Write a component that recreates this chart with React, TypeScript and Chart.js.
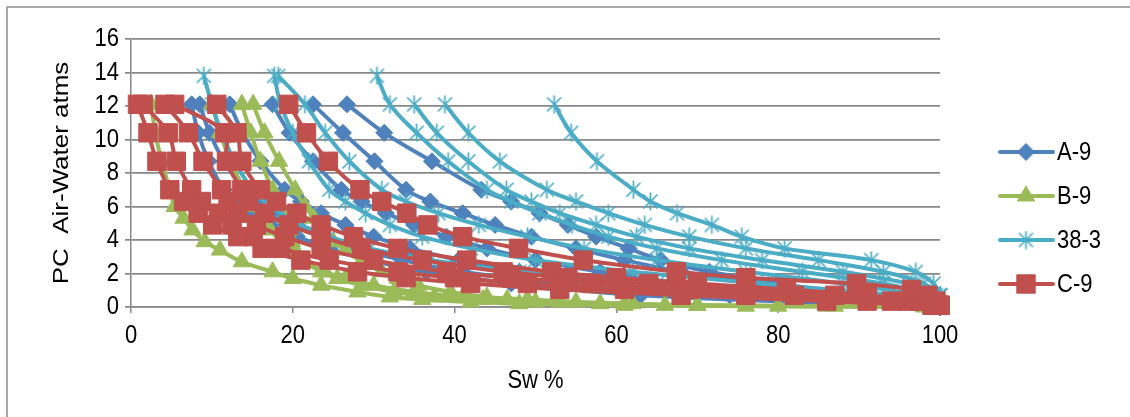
import React, { useEffect, useRef } from 'react';
import { Chart, registerables } from 'chart.js';

Chart.register(...registerables);

// ---------- text ----------
const SERIES_NAMES = ['A-9', 'B-9', '38-3', 'C-9'];
const X_TITLE = 'Sw %';
const Y_TITLE = 'PC  Air-Water atms';
const X_TICKS = [0, 20, 40, 60, 80, 100];
const Y_TICKS = [0, 2, 4, 6, 8, 10, 12, 14, 16];

// ---------- A-9 (Pc levels, atm) and Sw % of each sample curve ----------
const PC_A9 = [12.1, 10.4, 8.7, 7.0, 6.3, 5.6, 4.9, 4.2, 3.5, 2.8, 2.1, 1.4, 0.7, 0.0];
const A9_1 = [26.7, 31.3, 37.2, 43.3, 47.0, 50.5, 54.0, 57.5, 61.5, 65.5, 71.5, 80.0, 90.0, 100.0];
const A9_2 = [22.5, 26.2, 30.1, 34.0, 37.0, 41.0, 45.0, 49.5, 55.0, 61.0, 68.0, 77.0, 88.0, 100.0];
const A9_3 = [17.5, 19.6, 22.5, 26.0, 28.5, 31.5, 35.0, 39.0, 44.0, 50.0, 58.0, 68.0, 82.0, 100.0];
const A9_4 = [12.2, 13.8, 16.0, 19.0, 21.0, 23.5, 26.5, 30.0, 34.5, 40.5, 48.0, 58.0, 74.0, 100.0];
const A9_5 = [8.5, 9.7, 11.5, 14.0, 15.8, 18.0, 20.5, 24.0, 28.0, 33.5, 41.0, 52.0, 68.0, 100.0];
const A9_6 = [7.5, 8.3, 9.6, 11.5, 13.0, 15.0, 17.3, 20.5, 24.5, 29.5, 36.5, 47.0, 63.0, 100.0];

// ---------- B-9 ----------
const PC_B9 = [12.1, 10.4, 8.7, 7.0, 6.0, 5.3, 4.6, 3.9, 3.4, 2.7, 2.1, 1.7, 1.3, 0.9, 0.6, 0.45, 0.3, 0.2, 0.1, 0.05, 0.0];
const B9_1 = [2.5, 3.0, 3.8, 4.8, 5.4, 6.5, 7.6, 9.1, 11.0, 13.7, 17.5, 20.0, 23.5, 28.0, 32.0, 36.0, 42.0, 48.0, 61.0, 76.0, 98.0];
const B9_2 = [13.7, 14.8, 16.0, 17.5, 18.5, 19.2, 19.6, 19.9, 20.3, 21.5, 23.5, 25.5, 28.5, 32.5, 37.5, 43.5, 50.0, 58.0, 66.0, 80.0, 99.0];
const B9_3 = [15.1, 16.5, 18.3, 20.3, 21.5, 22.6, 23.6, 25.0, 26.5, 28.5, 31.0, 33.0, 35.5, 39.5, 44.0, 49.0, 55.0, 62.0, 70.0, 87.0, 100.0];
const B9_4 = [10.0, 11.0, 12.3, 14.0, 15.0, 16.0, 17.2, 18.5, 19.8, 21.5, 24.0, 26.5, 30.0, 35.0, 41.0, 46.5, 53.0, 61.0, 70.0, 86.0, 100.0];

// ---------- 38-3 ----------
const PC_383 = [13.8, 12.1, 10.4, 8.7, 7.0, 6.3, 5.6, 4.9, 4.2, 3.5, 2.8, 2.1, 1.4, 0.7];
const K383_1 = [null, 52.3, 54.4, 57.6, 62.1, 64.2, 67.5, 71.8, 75.5, 80.8, 91.5, 97.0, 99.2, 100.0];
const K383_2 = [30.4, 32.0, 35.3, 39.2, 44.0, 47.0, 50.5, 54.5, 59.0, 65.0, 73.0, 83.0, 93.0, 99.5];
const K383_3 = [null, 35.0, 37.8, 41.7, 46.4, 49.5, 53.0, 57.5, 62.5, 69.0, 78.0, 88.0, 96.0, 100.0];
const K383_4 = [null, 38.8, 41.7, 45.6, 51.4, 55.0, 59.0, 63.5, 69.0, 76.0, 85.0, 93.0, 98.0, 100.0];
const K383_5 = [18.2, 21.5, 24.0, 27.0, 31.0, 34.0, 38.0, 43.0, 49.0, 56.0, 65.0, 76.0, 88.0, 98.0];
const K383_6 = [17.7, 18.5, 20.0, 22.0, 24.5, 26.5, 29.0, 32.0, 36.0, 42.0, 50.0, 62.0, 78.0, 95.0];
const K383_7 = [9.0, 10.0, 11.2, 12.8, 15.0, 16.5, 18.5, 21.0, 24.5, 29.5, 37.0, 48.0, 65.0, 90.0];

// ---------- C-9 ----------
const PC_C9 = [12.1, 10.4, 8.7, 7.0, 6.3, 5.6, 4.9, 4.2, 3.5, 2.8, 2.1, 1.75, 1.4, 1.05, 0.7, 0.35, 0.1];
const C9_1 = [19.5, 21.7, 24.4, 28.3, 31.0, 34.1, 36.7, 41.0, 47.9, 55.9, 67.4, 76.0, 89.7, 96.5, 98.5, 99.5, 100.0];
const C9_2 = [0.8, 2.1, 3.2, 4.8, 6.5, 8.3, 10.1, 13.2, 16.2, 21.0, 28.0, 34.0, 42.0, 53.0, 68.0, 86.0, 99.0];
const C9_3 = [1.5, 4.6, 5.6, 7.5, 8.7, 10.8, 12.5, 15.1, 18.5, 24.5, 33.0, 40.0, 49.0, 61.0, 76.0, 91.0, 99.5];
const C9_4 = [4.2, 7.1, 8.9, 11.2, 12.0, 13.2, 15.5, 19.0, 23.5, 30.0, 39.0, 47.0, 57.0, 69.0, 82.0, 94.0, 99.8];
const C9_5 = [5.4, 11.6, 11.8, 13.7, 14.5, 16.5, 19.5, 23.5, 28.5, 36.0, 46.0, 54.0, 64.0, 76.0, 87.0, 96.0, 100.0];
const C9_6 = [10.6, 13.1, 13.7, 16.0, 18.0, 20.5, 23.5, 27.5, 33.0, 41.5, 52.0, 60.0, 70.0, 81.0, 91.0, 97.5, 100.0];

// ---------- styling ----------
const FONT = '"Liberation Sans", Arial, Helvetica, sans-serif';
const FONT_SIZE = 22;
const TEXT_STRETCH = 1.18; // text in the reference is taller than it is wide
const GRID = '#878787';

function makeAsterisk(size: number, color: string, lw: number) {
  const c = document.createElement('canvas');
  c.width = size;
  c.height = size;
  const g = c.getContext('2d')!;
  g.strokeStyle = color;
  g.lineWidth = lw;
  const m = size / 2;
  const r = size / 2 - 0.5;
  const d = r * 0.78;
  g.beginPath();
  g.moveTo(m, m - r);
  g.lineTo(m, m + r);
  g.moveTo(m - d, m - d);
  g.lineTo(m + d, m + d);
  g.moveTo(m + d, m - d);
  g.lineTo(m - d, m + d);
  g.stroke();
  return c;
}

type Fam = { name: string; color: string; style: any; radius: number; pc: number[]; curves: (number | null)[][]; order: number };

function drawMarker(ctx: CanvasRenderingContext2D, style: any, x: number, y: number, color: string, r: number) {
  ctx.save();
  ctx.fillStyle = color;
  ctx.strokeStyle = color;
  ctx.lineWidth = 1;
  if (typeof style !== 'string') {
    ctx.drawImage(style, x - style.width / 2, y - style.height / 2);
    ctx.restore();
    return;
  }
  ctx.beginPath();
  if (style === 'rectRot') {
    ctx.moveTo(x - r, y);
    ctx.lineTo(x, y - r);
    ctx.lineTo(x + r, y);
    ctx.lineTo(x, y + r);
  } else if (style === 'triangle') {
    let a = 0;
    ctx.moveTo(x + Math.sin(a) * r, y - Math.cos(a) * r);
    a += (2 * Math.PI) / 3;
    ctx.lineTo(x + Math.sin(a) * r, y - Math.cos(a) * r);
    a += (2 * Math.PI) / 3;
    ctx.lineTo(x + Math.sin(a) * r, y - Math.cos(a) * r);
  } else {
    const s = Math.SQRT1_2 * r;
    ctx.rect(x - s, y - s, 2 * s, 2 * s);
  }
  ctx.closePath();
  ctx.fill();
  ctx.stroke();
  ctx.restore();
}

function stretchedText(
  ctx: CanvasRenderingContext2D,
  text: string,
  x: number,
  y: number,
  align: CanvasTextAlign,
  rotate = 0
) {
  ctx.save();
  ctx.fillStyle = '#000000';
  ctx.font = `${FONT_SIZE}px ${FONT}`;
  ctx.textAlign = align;
  ctx.textBaseline = 'middle';
  ctx.translate(x, y);
  ctx.scale(1, TEXT_STRETCH);
  if (rotate) ctx.rotate(rotate);
  ctx.fillText(text, 0, 0);
  ctx.restore();
}

export default function App() {
  const ref = useRef<HTMLCanvasElement | null>(null);

  useEffect(() => {
    const canvas = ref.current;
    if (!canvas) return;
    const asterisk = makeAsterisk(19, '#4BACC6', 1.7);

    const fams: Fam[] = [
      { name: SERIES_NAMES[0], color: '#4F81BD', style: 'rectRot', radius: 8.5, pc: PC_A9, curves: [A9_1, A9_2, A9_3, A9_4, A9_5, A9_6], order: 4 },
      { name: SERIES_NAMES[1], color: '#9BBB59', style: 'triangle', radius: 10, pc: PC_B9, curves: [B9_1, B9_2, B9_3, B9_4], order: 3 },
      { name: SERIES_NAMES[2], color: '#4BACC6', style: asterisk, radius: 9, pc: PC_383, curves: [K383_1, K383_2, K383_3, K383_4, K383_5, K383_6, K383_7], order: 2 },
      { name: SERIES_NAMES[3], color: '#C0504D', style: 'rect', radius: 13, pc: PC_C9, curves: [C9_1, C9_2, C9_3, C9_4, C9_5, C9_6], order: 1 },
    ];

    const datasets: any[] = [];
    fams.forEach((f) => {
      f.curves.forEach((sw) => {
        const data = sw
          .map((x, i) => (x == null ? null : { x, y: f.pc[i] }))
          .filter((p) => p !== null);
        datasets.push({
          label: f.name,
          data,
          showLine: true,
          borderColor: f.color,
          backgroundColor: f.color,
          borderWidth: 4,
          pointStyle: f.style,
          pointRadius: f.radius,
          pointBorderWidth: 1,
          pointBorderColor: f.color,
          pointBackgroundColor: f.color,
          tension: 0.35,
          clip: false,
          order: f.order,
        });
      });
    });

    const framePlugin = {
      id: 'frame',
      beforeDraw(chart: any) {
        const ctx = chart.ctx;
        ctx.save();
        ctx.fillStyle = '#FFFFFF';
        ctx.fillRect(0, 0, chart.width, chart.height);
        ctx.strokeStyle = '#8C8C8C';
        ctx.lineWidth = 1.5;
        ctx.strokeRect(7, 7, 2000, 2000);
        ctx.restore();
      },
    };

    const textPlugin = {
      id: 'axisText',
      afterDraw(chart: any) {
        const ctx = chart.ctx as CanvasRenderingContext2D;
        const xs = chart.scales.x;
        const ys = chart.scales.y;
        X_TICKS.forEach((v) => stretchedText(ctx, String(v), xs.getPixelForValue(v), 336, 'center'));
        Y_TICKS.forEach((v) => stretchedText(ctx, String(v), 119, ys.getPixelForValue(v), 'right'));
        stretchedText(ctx, X_TITLE, (xs.left + xs.right) / 2, 381, 'center');
        stretchedText(ctx, Y_TITLE, 62, (ys.top + ys.bottom) / 2, 'center', -Math.PI / 2);
      },
    };

    const legendPlugin = {
      id: 'excelLegend',
      afterDraw(chart: any) {
        const ctx = chart.ctx as CanvasRenderingContext2D;
        fams.forEach((f, i) => {
          const y = 152 + i * 44;
          ctx.save();
          ctx.strokeStyle = f.color;
          ctx.lineWidth = 4;
          ctx.lineCap = 'round';
          ctx.beginPath();
          ctx.moveTo(1000, y);
          ctx.lineTo(1053, y);
          ctx.stroke();
          ctx.restore();
          drawMarker(ctx, f.style, 1026, y, f.color, f.radius);
          stretchedText(ctx, f.name, 1057, y + 1, 'left');
        });
      },
    };

    const chart = new Chart(canvas, {
      type: 'scatter',
      data: { datasets },
      options: {
        animation: false,
        responsive: false,
        events: [],
        layout: { padding: { left: 0, right: 190, top: 39, bottom: 0 } },
        plugins: { legend: { display: false }, tooltip: { enabled: false } },
        scales: {
          x: {
            type: 'linear',
            min: X_TICKS[0],
            max: X_TICKS[X_TICKS.length - 1],
            afterBuildTicks: (s: any) => {
              s.ticks = X_TICKS.map((v) => ({ value: v }));
            },
            afterFit: (s: any) => {
              s.height = 110;
            },
            grid: { drawOnChartArea: false, drawTicks: true, tickLength: 6, color: GRID, lineWidth: 1.5 },
            border: { color: GRID, width: 1.5 },
            ticks: { display: false },
            title: { display: false, text: X_TITLE },
          },
          y: {
            type: 'linear',
            min: Y_TICKS[0],
            max: Y_TICKS[Y_TICKS.length - 1],
            afterBuildTicks: (s: any) => {
              s.ticks = Y_TICKS.map((v) => ({ value: v }));
            },
            afterFit: (s: any) => {
              s.width = 131;
            },
            grid: { drawTicks: true, tickLength: 6, color: GRID, lineWidth: 1.7 },
            border: { color: GRID, width: 1.5 },
            ticks: { display: false },
            title: { display: false, text: Y_TITLE },
          },
        },
      },
      plugins: [framePlugin, textPlugin, legendPlugin],
    });

    return () => chart.destroy();
  }, []);

  return (
    <div style={{ position: 'absolute', left: 0, top: 0, width: 1130, height: 417 }}>
      <canvas ref={ref} width={1130} height={417} style={{ width: 1130, height: 417, display: 'block' }} />
    </div>
  );
}
